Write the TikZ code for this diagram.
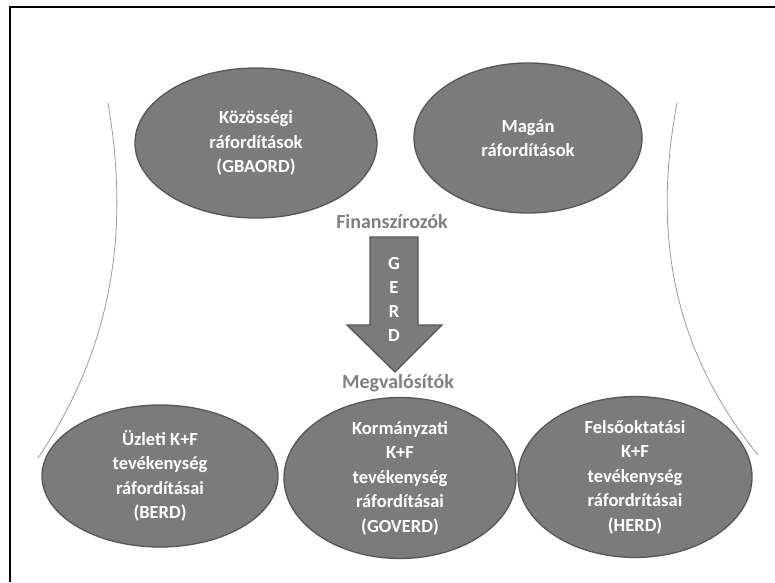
\documentclass[tikz,border=0pt]{standalone}
\usepackage{fontspec}
\setmainfont{Carlito}
\usetikzlibrary{shapes.geometric}
\definecolor{fillgray}{HTML}{7B7B7B}
\definecolor{edgegray}{HTML}{565656}
\definecolor{capgray}{HTML}{7F7F7F}
\definecolor{curvegray}{HTML}{9A9A9A}
\tikzset{
  blob/.style={ellipse, draw=edgegray, line width=1.3pt, fill=fillgray, text=white,
    font=\bfseries\fontsize{18.5}{24.5}\selectfont, align=center, inner sep=0pt},
  caption/.style={text=capgray, font=\bfseries\fontsize{20}{24}\selectfont, inner sep=0pt},
  curve/.style={draw=curvegray, line width=0.8pt},
  bigarrow/.style={fill=fillgray, draw=edgegray, line width=1.3pt, line join=miter},
}
\begin{document}
\begin{tikzpicture}[x=1pt,y=-1pt]
\useasboundingbox (0,0) rectangle (775,582);
\draw[line width=2.5pt] (10,582) -- (10,7) -- (775,7);
% side curves
\draw[curve] (108,103) .. controls (128,220) and (118,340) .. (38,458);
\draw[curve] (677,103) .. controls (655,220) and (665,340) .. (758,455);
% funders
\node[blob, minimum width=242pt, minimum height=150pt] (gbaord) at (256,143)
  {Közösségi\\ráfordítások\\(GBAORD)};
\node[blob, minimum width=228pt, minimum height=150pt] (magan) at (528,138)
  {Magán\\ráfordítások};
\node[caption] (fin) at (392,222) {Finanszírozók};
% arrow
\path[bigarrow] (370,237) -- (418,237) -- (418,325) -- (442,325) -- (395,372)
  -- (347,325) -- (370,325) -- cycle;
\node[text=white, font=\bfseries\fontsize{18.5}{24}\selectfont, align=center, inner sep=0pt]
  (gerd) at (394,299) {G\\E\\R\\D};
\node[caption] (meg) at (398,383) {Megvalósítók};
% performers
\node[blob, minimum width=236pt, minimum height=142pt] (berd) at (160,476)
  {Üzleti K+F\\tevékenység\\ráfordításai\\(BERD)};
\node[blob, minimum width=232pt, minimum height=152pt] (goverd) at (400,478)
  {Kormányzati\\K+F\\tevékenység\\ráfordításai\\(GOVERD)};
\node[blob, minimum width=234pt, minimum height=152pt] (herd) at (635,477)
  {Felsőoktatási\\K+F\\tevékenység\\ráfordrításai\\(HERD)};
\end{tikzpicture}
\end{document}
